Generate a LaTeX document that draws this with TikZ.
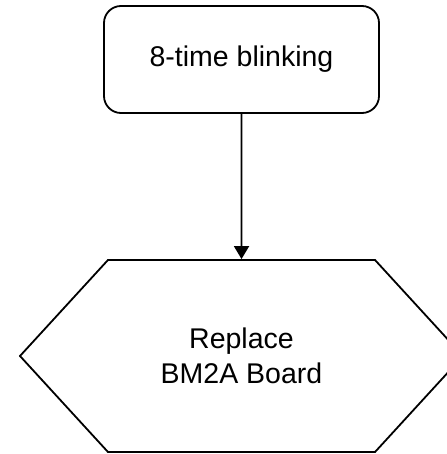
\documentclass[tikz,border=0pt]{standalone}
\usepackage{fontspec}
\setmainfont{Liberation Sans}
\usetikzlibrary{arrows.meta,shapes.symbols}

\begin{document}
\begin{tikzpicture}[x=1pt, y=-1pt, line width=1.8pt,
  every node/.style={font=\fontsize{28.5}{35}\selectfont, align=center},
  state/.style={rectangle, draw, rounded corners=17pt, minimum width=275pt, minimum height=107pt},
  action/.style={signal, draw, signal to=east and west, signal pointer angle=95, minimum width=443pt, minimum height=192pt, inner sep=0pt}
]
\useasboundingbox (0,0) rectangle (446,454);

% Symptom
\node[state] (blink) at (241.5,59.5) {8-time blinking};

% Remedy
\node[action] (replace) at (241.5,356) {Replace\\BM2A Board};

% Arrow
\draw[-{Triangle[length=13pt,width=15pt]}] (blink) -- (replace);

\end{tikzpicture}
\end{document}
